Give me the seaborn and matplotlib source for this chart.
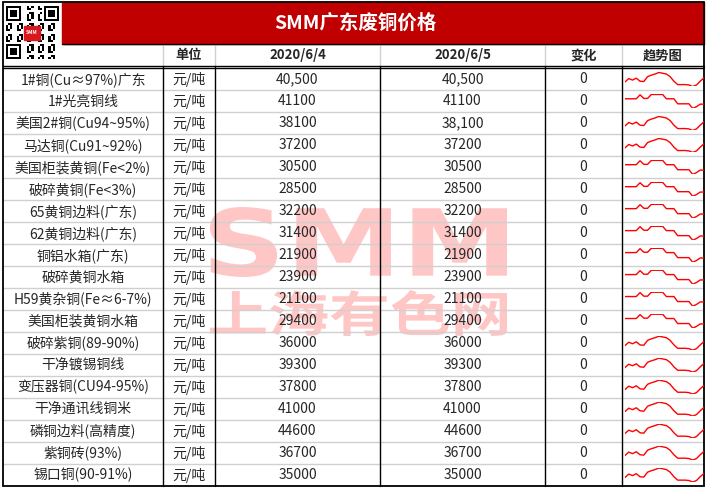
import numpy as np
import pandas as pd
import matplotlib
matplotlib.use('Agg')
from matplotlib import pyplot as plt
from matplotlib.patches import Rectangle, PathPatch
from matplotlib.textpath import TextPath
from matplotlib.font_manager import FontProperties
from matplotlib.transforms import Affine2D
import seaborn as sns

# table content
title = 'SMM广东废铜价格'
headers = ['单位', '2020/6/4', '2020/6/5', '变化', '趋势图']
items = ['1#铜(Cu≈97%)广东', '1#光亮铜线', '美国2#铜(Cu94~95%)', '马达铜(Cu91~92%)',
         '美国柜装黄铜(Fe<2%)', '破碎黄铜(Fe<3%)', '65黄铜边料(广东)', '62黄铜边料(广东)',
         '铜铝水箱(广东)', '破碎黄铜水箱', 'H59黄杂铜(Fe≈6-7%)', '美国柜装黄铜水箱',
         '破碎紫铜(89-90%)', '干净镀锡铜线', '变压器铜(CU94-95%)', '干净通讯线铜米',
         '磷铜边料(高精度)', '紫铜砖(93%)', '锡口铜(90-91%)']
unit = '元/吨'
price_0604 = ['40,500', '41100', '38100', '37200', '30500', '28500', '32200', '31400',
              '21900', '23900', '21100', '29400', '36000', '39300', '37800', '41000',
              '44600', '36700', '35000']
price_0605 = ['40,500', '41100', '38,100', '37200', '30500', '28500', '32200', '31400',
              '21900', '23900', '21100', '29400', '36000', '39300', '37800', '41000',
              '44600', '36700', '35000']
change = [0, 0, 0, 0, 0, 0, 0, 0, 0, 0, 0, 0, 0, 0, 0, 0, 0, 0, 0]

# sparkline shapes
trend_kind = ['wavy', 'step', 'wavy', 'wavy', 'step', 'step', 'step', 'step', 'step', 'step',
              'step', 'step', 'wavy', 'wavy', 'wavy', 'wavy', 'wavy', 'wavy', 'wavy']
trend_wavy = [17, 26, 22, 27, 19, 18, 31, 35, 38, 42, 40, 38, 31, 19, 10, 10, 10, 9, 5, 9, 19, 28]
trend_step = [32, 32, 32, 32, 43, 33, 33, 44, 44, 44, 44, 32, 32, 32, 18, 18, 18, 18, 5, 10, 17, 17]

sns.set_theme(style='white')
plt.rcParams['font.family'] = ['Noto Sans CJK SC', 'DejaVu Sans']

W, H = 709, 490
fig = plt.figure(figsize=(7.09, 4.90), dpi=100)
ax = fig.add_axes([0, 0, 1, 1])
ax.set_xlim(0, W)
ax.set_ylim(H, 0)
ax.axis('off')

col_edges = [3, 163, 215, 380, 545, 622, 704]
col_mid = [(a + b) / 2 for a, b in zip(col_edges[:-1], col_edges[1:])]
top = 2
title_bottom = 44
head_bottom = 66
row0 = 68.5
bottom = 486
row_h = (bottom - row0) / len(items)


def watermark(s, family, box, color):
    # stretch a text outline to fill a box (x0, y0, x1, y1) in pixel coords
    fp = FontProperties(family=family, weight='bold')
    tp = TextPath((0, 0), s, size=100, prop=fp)
    ext = tp.get_extents()
    x0, y0, x1, y1 = box
    tr = (Affine2D().translate(-ext.x0, -ext.y0)
          .scale((x1 - x0) / ext.width, -(y1 - y0) / ext.height)
          .translate(x0, y1))
    ax.add_patch(PathPatch(tr.transform_path(tp), facecolor=color, edgecolor='none', zorder=1))


wm = '#FFC6C6'
watermark('SMM', 'DejaVu Sans', (210, 207, 507, 277), wm)
watermark('上海有色网', 'Noto Sans CJK SC', (210, 290, 507, 336), wm)

# title bar
ax.add_patch(Rectangle((62, top), col_edges[-1] - 62, title_bottom - top, color='#C00000', zorder=1))
ax.text(355, 23, title, color='white', fontsize=14, fontweight='bold', ha='center', va='center', zorder=3)

# qr code (decorative)
n = 25
qr = np.zeros((n, n))
for i in range(n):
    for j in range(n):
        qr[i, j] = ((i * i + 3 * j + i * j) % 5) < 2
for (r, c) in [(0, 0), (0, n - 7), (n - 7, 0)]:
    qr[max(r - 1, 0):r + 8, max(c - 1, 0):c + 8] = 0
    qr[r:r + 7, c:c + 7] = 1
    qr[r + 1:r + 6, c + 1:c + 6] = 0
    qr[r + 2:r + 5, c + 2:c + 5] = 1
ax.imshow(1 - qr, cmap='gray', extent=(6, 59, 59, 6), interpolation='nearest', zorder=2)
ax.add_patch(Rectangle((24, 26), 16, 14, color='#D8181E', zorder=3))
ax.text(32, 33, 'SMM', color='white', fontsize=3.5, fontweight='bold', ha='center', va='center', zorder=4)
ax.set_xlim(0, W)
ax.set_ylim(H, 0)

# grid lines
for x in col_edges[1:-1]:
    ax.plot([x, x], [title_bottom, head_bottom], color='#D0D0D0', lw=1, zorder=2)
    ax.plot([x, x], [head_bottom, bottom], color='black', lw=1, zorder=2)
for i in range(1, len(items)):
    y = row0 + i * row_h
    ax.plot([col_edges[0], col_edges[-1]], [y, y], color='#D0D0D0', lw=1, zorder=1.5)
ax.plot([62, col_edges[-1]], [title_bottom, title_bottom], color='black', lw=1, zorder=2)
ax.plot([col_edges[0], col_edges[-1]], [head_bottom, head_bottom], color='black', lw=1, zorder=2)
ax.plot([col_edges[0], col_edges[-1]], [head_bottom + 2.5, head_bottom + 2.5], color='black', lw=1, zorder=2)
ax.add_patch(Rectangle((col_edges[0], top), col_edges[-1] - col_edges[0], bottom - top,
                       fill=False, edgecolor='black', lw=1.3, zorder=4))

# header row
for k, h in enumerate(headers):
    ax.text(col_mid[k + 1], 55.5, h, fontsize=9.5, fontweight='bold', ha='center', va='center', zorder=3)

# body
for i in range(len(items)):
    y = row0 + (i + 0.5) * row_h
    ax.text(col_mid[0], y, items[i], fontsize=10, ha='center', va='center', zorder=3)
    ax.text(col_mid[1], y, unit, fontsize=10, ha='center', va='center', zorder=3)
    ax.text(col_mid[2], y, price_0604[i], fontsize=10, ha='center', va='center', zorder=3)
    ax.text(col_mid[3], y, price_0605[i], fontsize=10, ha='center', va='center', zorder=3)
    ax.text(col_mid[4], y, str(change[i]), fontsize=10, ha='center', va='center', zorder=3)

    vals = trend_wavy if trend_kind[i] == 'wavy' else trend_step
    rt = row0 + i * row_h
    sax = fig.add_axes([625 / W, 1 - (rt + 18) / H, 79 / W, 14 / H])
    sns.lineplot(x=np.arange(len(vals)), y=vals, ax=sax, color='#FF0000', linewidth=1)
    sax.margins(0)
    sax.axis('off')
    sax.patch.set_alpha(0)

fig.savefig('out.png', dpi=100)
